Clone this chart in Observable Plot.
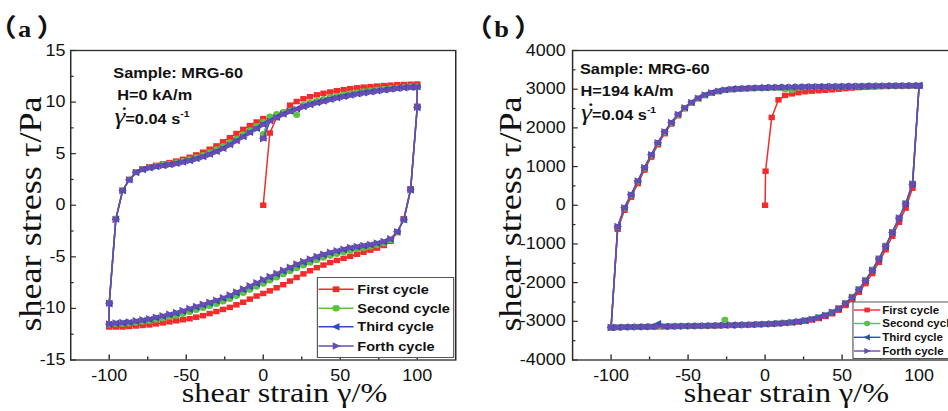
<!DOCTYPE html>
<html>
<head>
<meta charset="utf-8">
<script src="https://cdn.jsdelivr.net/npm/d3@7"></script>
<script src="https://cdn.jsdelivr.net/npm/@observablehq/plot@0.6"></script>
<style>
  html, body { margin: 0; padding: 0; background: #fff; overflow: hidden; width: 948px; height: 411px; }
  #fig { position: relative; width: 846px; height: 411px; transform: scaleX(1.15); transform-origin: 0 0; }
  .panel { position: absolute; top: 0; }
  .panel svg { max-width: none !important; display: block; }
</style>
</head>
<body>
<div id="fig"></div>
<script>
// Strain sampling points of each loading branch (%)
const strainGrid = [-100, -95.7, -91.3, -87, -82.6, -78.3, -73.9, -69.6, -65.2, -60.9,
  -56.5, -52.2, -47.8, -43.5, -39.1, -34.8, -30.4, -26.1, -21.7, -17.4,
  -13, -8.7, -4.3, 0, 4.3, 8.7, 13, 17.4, 21.7, 26.1,
  30.4, 34.8, 39.1, 43.5, 47.8, 52.2, 56.5, 60.9, 65.2, 69.6,
  73.9, 78.3, 82.6, 87, 91.3, 95.7, 100];

const cycleNames = ["First cycle", "Second cycle", "Third cycle", "Forth cycle"];

// ---- (a) H = 0 kA/m : shear stress (Pa) ----
// upper branch (strain increasing), lower branch (listed by increasing strain)
const aUp1 = [-9.5, -1.3, 1.45, 2.5, 3.22, 3.53, 3.72, 3.87, 4.0, 4.13,
  4.28, 4.45, 4.65, 4.88, 5.14, 5.43, 5.75, 6.15, 6.55, 6.95,
  7.35, 7.72, 8.07, 8.4, 7.0, 8.5, 8.95, 9.7, 10.05, 10.32,
  10.52, 10.7, 10.85, 10.98, 11.1, 11.2, 11.3, 11.38, 11.45, 11.5,
  11.55, 11.6, 11.64, 11.68, 11.7, 11.73, 11.75];
const aUp2 = [-9.45, -1.3, 1.45, 2.5, 3.2, 3.5, 3.67, 3.8, 3.92, 4.03,
  4.15, 4.3, 4.47, 4.66, 4.88, 5.13, 5.42, 5.74, 6.1, 6.48,
  6.88, 7.28, 7.68, 8.1, 8.6, 8.85, 9.05, 9.15, 8.75, 9.75,
  9.95, 10.13, 10.3, 10.46, 10.6, 10.73, 10.85, 10.96, 11.06, 11.15,
  11.23, 11.3, 11.36, 11.41, 11.45, 11.5, 11.52];
const aUp3 = [-9.55, -1.35, 1.42, 2.47, 3.17, 3.47, 3.63, 3.75, 3.85, 3.95,
  4.06, 4.19, 4.34, 4.52, 4.72, 4.95, 5.22, 5.53, 5.88, 6.26,
  6.66, 7.06, 7.46, 7.86, 8.2, 8.55, 8.85, 9.12, 9.35, 9.57,
  9.77, 9.95, 10.11, 10.27, 10.42, 10.55, 10.68, 10.8, 10.9, 11.0,
  11.09, 11.18, 11.26, 11.33, 11.39, 11.44, 11.47];
const aUp4 = [-9.5, -1.4, 1.4, 2.45, 3.15, 3.45, 3.6, 3.72, 3.82, 3.92,
  4.02, 4.15, 4.3, 4.47, 4.67, 4.9, 5.17, 5.47, 5.82, 6.2,
  6.6, 7.0, 7.4, 7.8, 8.15, 8.5, 8.8, 9.07, 9.3, 9.52,
  9.72, 9.9, 10.06, 10.22, 10.37, 10.5, 10.63, 10.75, 10.86, 10.96,
  11.05, 11.14, 11.22, 11.3, 11.36, 11.42, 11.45];
const aLo1 = [-11.8, -11.8, -11.8, -11.75, -11.7, -11.65, -11.6, -11.5, -11.4, -11.3,
  -11.2, -11.1, -11.0, -10.85, -10.7, -10.5, -10.3, -10.1, -9.9, -9.65,
  -9.4, -9.1, -8.8, -8.55, -8.3, -8.0, -7.7, -7.35, -7.0, -6.65,
  -6.35, -6.05, -5.8, -5.55, -5.35, -5.15, -4.95, -4.75, -4.55, -4.35,
  -4.15, -3.9, -3.5, -2.65, -1.3, 1.6, 9.6];
const aLo2 = [-11.55, -11.52, -11.5, -11.45, -11.38, -11.3, -11.22, -11.1, -10.97, -10.84,
  -10.7, -10.53, -10.35, -10.16, -9.96, -9.76, -9.56, -9.33, -9.08, -8.8,
  -8.5, -8.2, -7.9, -7.6, -7.3, -7.0, -6.7, -6.4, -6.1, -5.83,
  -5.57, -5.32, -5.1, -4.9, -4.72, -4.56, -4.4, -4.27, -4.15, -4.03,
  -3.87, -3.7, -3.4, -2.6, -1.38, 1.52, 9.5];
const aLo3 = [-11.52, -11.44, -11.4, -11.35, -11.26, -11.16, -11.06, -10.92, -10.77, -10.62,
  -10.47, -10.28, -10.08, -9.88, -9.68, -9.48, -9.27, -9.03, -8.78, -8.48,
  -8.18, -7.88, -7.58, -7.28, -6.98, -6.68, -6.38, -6.08, -5.78, -5.52,
  -5.27, -5.02, -4.81, -4.61, -4.45, -4.3, -4.15, -4.04, -3.94, -3.84,
  -3.69, -3.54, -3.28, -2.58, -1.42, 1.48, 9.48];
const aLo4 = [-11.5, -11.4, -11.35, -11.3, -11.2, -11.1, -11.0, -10.85, -10.7, -10.55,
  -10.4, -10.2, -10.0, -9.8, -9.6, -9.4, -9.2, -8.95, -8.7, -8.4,
  -8.1, -7.8, -7.5, -7.2, -6.9, -6.6, -6.3, -6.0, -5.7, -5.45,
  -5.2, -4.95, -4.75, -4.55, -4.4, -4.25, -4.1, -4.0, -3.9, -3.8,
  -3.65, -3.5, -3.25, -2.55, -1.4, 1.5, 9.5];
// first points of each cycle (strain %, stress Pa)
const aStartStrain = [[0], [0], [0], [0]];
const aStartStress = [[0], [6.9], [6.5], [6.45]];

// ---- (b) H = 194 kA/m : shear stress (Pa) ----
const bUp1 = [-3165, -620, -130, 210, 560, 910, 1245, 1565, 1850, 2100,
  2315, 2495, 2640, 2755, 2838, 2900, 2942, 2972, 2993, 3006,
  3015, 3022, 3028, 3033, 2270, 2725, 2840, 2880, 2910, 2935,
  2950, 2962, 2972, 2985, 3000, 3015, 3030, 3042, 3052, 3060,
  3066, 3071, 3076, 3080, 3084, 3087, 3090];
const bUp2 = [-3158, -560, -75, 262, 615, 960, 1290, 1605, 1885, 2128,
  2338, 2510, 2650, 2760, 2842, 2902, 2943, 2972, 2992, 3005,
  3013, 3020, 3026, 3031, 3036, 3030, 3000, 2970, 3040, 3052,
  3057, 3060, 3063, 3065, 3067, 3070, 3072, 3074, 3076, 3078,
  3080, 3082, 3084, 3086, 3088, 3090, 3092];
const bUp3 = [-3162, -545, -55, 280, 635, 980, 1310, 1625, 1905, 2145,
  2355, 2525, 2665, 2773, 2853, 2912, 2952, 2982, 3002, 3014,
  3022, 3029, 3035, 3040, 3045, 3049, 3053, 3056, 3059, 3062,
  3065, 3067, 3069, 3071, 3073, 3075, 3077, 3079, 3081, 3083,
  3085, 3087, 3088, 3090, 3091, 3093, 3094];
const bUp4 = [-3160, -550, -60, 275, 630, 975, 1305, 1620, 1900, 2140,
  2350, 2520, 2660, 2770, 2850, 2910, 2950, 2980, 3000, 3012,
  3020, 3027, 3033, 3038, 3043, 3047, 3051, 3055, 3058, 3061,
  3064, 3066, 3068, 3070, 3072, 3074, 3076, 3078, 3080, 3082,
  3084, 3086, 3088, 3089, 3090, 3092, 3093];
const bLo1 = [-3165, -3160, -3156, -3152, -3149, -3146, -3143, -3140, -3137, -3134,
  -3131, -3128, -3125, -3122, -3119, -3116, -3112, -3108, -3104, -3100,
  -3095, -3090, -3084, -3078, -3071, -3062, -3051, -3037, -3019, -2996,
  -2966, -2927, -2875, -2805, -2712, -2590, -2440, -2250, -2025, -1765,
  -1475, -1150, -800, -440, -75, 440, 3090];
const bLo2 = [-3158, -3154, -3149, -3145, -3142, -3139, -3136, -3134, -3131, -3129,
  -3126, -3123, -3120, -3117, -3114, -3111, -3107, -2960, -3099, -3094,
  -3089, -3083, -3077, -3070, -3062, -3052, -3039, -3022, -3002, -2975,
  -2940, -2895, -2836, -2757, -2655, -2523, -2362, -2163, -1930, -1662,
  -1368, -1038, -683, -315, 55, 560, 3092];
const bLo3 = [-3161, -3156, -3151, -3147, -3144, -3141, -3138, -3060, -3133, -3131,
  -3128, -3125, -3122, -3119, -3116, -3113, -3109, -3105, -3101, -3096,
  -3091, -3085, -3079, -3072, -3064, -3054, -3041, -3025, -3005, -2979,
  -2946, -2902, -2846, -2768, -2668, -2538, -2378, -2182, -1950, -1683,
  -1390, -1060, -705, -335, 35, 545, 3093];
const bLo4 = [-3160, -3155, -3150, -3146, -3143, -3140, -3137, -3135, -3132, -3130,
  -3127, -3124, -3121, -3118, -3115, -3112, -3108, -3104, -3100, -3095,
  -3090, -3084, -3078, -3071, -3063, -3053, -3040, -3024, -3004, -2978,
  -2944, -2900, -2843, -2765, -2665, -2535, -2375, -2178, -1945, -1678,
  -1385, -1055, -700, -330, 40, 550, 3093];
const bStartStrain = [[0, 0.3], [0], [0], [0]];
const bStartStress = [[0, 880], [3032], [3040], [3036]];

// axis ticks
const xMajor = [-100, -50, 0, 50, 100];
const xMinor = [-75, -25, 25, 75];
const aYMajor = [-15, -10, -5, 0, 5, 10, 15];
const aYMinor = [-12.5, -7.5, -2.5, 2.5, 7.5, 12.5];
const bYMajor = [-4000, -3000, -2000, -1000, 0, 1000, 2000, 3000, 4000];
const bYMinor = [-3500, -2500, -1500, -500, 500, 1500, 2500, 3500];

// ---- styling ----
const colors = ["#f22b2b", "#5cc23c", "#2f4db4", "#6a4bb3"];
const triLeft = {draw(ctx, size) {
  const r = Math.sqrt(size / Math.PI);
  ctx.moveTo(-r * 1.2, 0); ctx.lineTo(r * 0.9, -r * 1.15); ctx.lineTo(r * 0.9, r * 1.15); ctx.closePath();
}};
const triRight = {draw(ctx, size) {
  const r = Math.sqrt(size / Math.PI);
  ctx.moveTo(r * 1.2, 0); ctx.lineTo(-r * 0.9, -r * 1.15); ctx.lineTo(-r * 0.9, r * 1.15); ctx.closePath();
}};
const symbols = [d3.symbolSquare, d3.symbolCircle, triLeft, triRight];
const symbolNames = ["square", "circle", triLeft, triRight];
const markerR = [3.1, 3.0, 3.2, 3.2];

// one loading cycle: start -> +100 (upper), +100 -> -100 (lower), -100 -> 0 (upper)
function cyclePath(startStrain, startStress, up, lo) {
  const pts = startStrain.map((s, i) => ({strain: s, stress: startStress[i]}));
  const n = strainGrid.length, mid = strainGrid.indexOf(0);
  for (let i = mid + 1; i < n; i++) pts.push({strain: strainGrid[i], stress: up[i]});
  for (let i = n - 1; i >= 0; i--) pts.push({strain: strainGrid[i], stress: lo[i]});
  for (let i = 0; i <= mid; i++) pts.push({strain: strainGrid[i], stress: up[i]});
  return pts;
}

const fig = document.getElementById("fig");
const SANS = "'Liberation Sans', Arial, sans-serif";
const SERIF = "'Liberation Serif', 'Times New Roman', serif";
const CJK = "'Noto Sans CJK SC', sans-serif";

function drawPanel(cfg) {
  const cycles = [0, 1, 2, 3].map(k => cyclePath(cfg.startStrain[k], cfg.startStress[k], cfg.up[k], cfg.lo[k]));
  const marks = [];
  cycles.forEach((pts, k) => {
    marks.push(Plot.line(pts, {x: "strain", y: "stress", stroke: colors[k], strokeWidth: 1.3}));
    marks.push(Plot.dot(pts, {x: "strain", y: "stress", fill: colors[k], r: markerR[k], symbol: symbolNames[k]}));
  });
  const fmt = d => String(d);
  marks.push(
    Plot.frame({stroke: "#2a2a2a", strokeWidth: 1.3}),
    Plot.axisX(xMajor, {anchor: "bottom", tickSize: -5, fill: "none", stroke: "#2a2a2a", strokeWidth: 1.2, label: null}),
    Plot.axisX(xMinor, {anchor: "bottom", tickSize: -3, fill: "none", stroke: "#2a2a2a", strokeWidth: 1.2, label: null}),
    Plot.axisX(xMajor, {anchor: "bottom", tickSize: 0, tickPadding: 10, stroke: "none", fill: "#111", fontSize: 15.6, tickFormat: fmt, label: null}),
    Plot.axisY(cfg.yMajor, {anchor: "left", tickSize: -5, fill: "none", stroke: "#2a2a2a", strokeWidth: 1.2, label: null}),
    Plot.axisY(cfg.yMinor, {anchor: "left", tickSize: -3, fill: "none", stroke: "#2a2a2a", strokeWidth: 1.2, label: null}),
    Plot.axisY(cfg.yMajor, {anchor: "left", tickSize: 0, tickPadding: cfg.yPad, stroke: "none", fill: "#111", fontSize: 15.6, tickFormat: fmt, label: null})
  );
  const svg = Plot.plot({
    width: cfg.width, height: 411,
    marginLeft: cfg.marginLeft, marginRight: cfg.marginRight, marginTop: 50, marginBottom: 51.5,
    x: {domain: [-125, 125], axis: null},
    y: {domain: cfg.yDomain, axis: null},
    style: {fontFamily: SANS, fontSize: "15px", background: "transparent", overflow: "visible", color: "#111"},
    marks
  });
  const div = document.createElement("div");
  div.className = "panel";
  div.style.left = cfg.left + "px";
  div.style.width = cfg.width + "px";
  div.appendChild(svg);
  fig.appendChild(div);

  const s = d3.select(svg);
  const fl = cfg.marginLeft, fr = cfg.width - cfg.marginRight;
  // panel tag: full-width brackets around a bold letter
  const tag = s.append("text").attr("x", cfg.tagX).attr("y", 37.5).attr("text-anchor", "start")
    .attr("fill", "#111").attr("font-weight", "bold");
  tag.append("tspan").attr("font-family", CJK).attr("font-size", 25).text("（");
  tag.append("tspan").attr("dx", 1.2).attr("font-family", SERIF).attr("font-size", 23).text(cfg.tag);
  tag.append("tspan").attr("dx", 4.5).attr("font-family", CJK).attr("font-size", 25).text("）");
  // axis titles
  s.append("text").attr("transform", `translate(${cfg.yTitleX},${cfg.yTitleY}) rotate(-90) scale(1.29,1)`)
    .attr("text-anchor", "middle").attr("font-family", SERIF).attr("font-size", 28).attr("fill", "#111")
    .text("shear stress τ/Pa");
  s.append("text").attr("x", (fl + fr) / 2 + 19).attr("y", 402)
    .attr("text-anchor", "middle").attr("font-family", SERIF).attr("font-size", 28).attr("fill", "#111")
    .text("shear strain γ/%");
  // sample annotation
  const ann = s.append("g").attr("text-anchor", "start").attr("font-family", SANS).attr("font-weight", "bold")
    .attr("font-size", 14.2).attr("fill", "#111");
  ann.append("text").attr("x", cfg.annX).attr("y", cfg.annY).text("Sample: MRG-60");
  ann.append("text").attr("x", cfg.annX + cfg.hShift).attr("y", cfg.annY + 22.5).text(cfg.field);
  const g3 = ann.append("text").attr("x", cfg.annX + 1).attr("y", cfg.annY + 46);
  g3.append("tspan").attr("font-family", SERIF).attr("font-style", "italic").attr("font-weight", "normal").attr("font-size", 24).text("γ");
  g3.append("tspan").text("=0.04 s");
  g3.append("tspan").attr("font-size", 9).attr("dy", -7).text("-1");
  // rate dot over the gamma
  ann.append("text").attr("x", cfg.annX + 7.5).attr("y", cfg.annY + 32)
    .attr("font-family", SERIF).attr("font-weight", "bold").attr("font-size", 16).text(".");
  // legend
  const L = cfg.legend;
  const lg = s.append("g").attr("text-anchor", "start");
  lg.append("rect").attr("x", L.x).attr("y", L.y).attr("width", L.w).attr("height", L.h)
    .attr("fill", "#fff").attr("stroke", "#555").attr("stroke-width", 1);
  cycleNames.forEach((name, k) => {
    const yy = L.rows[k];
    lg.append("line").attr("x1", L.x0).attr("x2", L.x1).attr("y1", yy).attr("y2", yy)
      .attr("stroke", colors[k]).attr("stroke-width", 1.4);
    lg.append("path").attr("transform", `translate(${(L.x0 + L.x1) / 2},${yy})`)
      .attr("d", d3.symbol(symbols[k], Math.PI * L.r * L.r)()).attr("fill", colors[k]);
    lg.append("text").attr("x", L.tx).attr("y", yy).attr("dy", "0.36em")
      .attr("font-family", SANS).attr("font-weight", "bold").attr("font-size", L.fs).attr("fill", "#111").text(name);
  });
}

drawPanel({
  tag: "a", tagX: -10.5,
  left: 0, width: 410, marginLeft: 61, marginRight: 14.2,
  yDomain: [-15, 15], yMajor: aYMajor, yMinor: aYMinor, yPad: 4.5,
  up: [aUp1, aUp2, aUp3, aUp4], lo: [aLo1, aLo2, aLo3, aLo4],
  startStrain: aStartStrain, startStress: aStartStress,
  yTitleX: 36, yTitleY: 214,
  annX: 98.5, annY: 78, hShift: 3.5, field: "H=0 kA/m",
  legend: {x: 276, y: 277.5, w: 118.5, h: 80, rows: [289.3, 308.3, 326.7, 346],
    x0: 277, x1: 307.5, tx: 310.7, fs: 12.6, r: 3.3}
});

drawPanel({
  tag: "b", tagX: -6.5,
  left: 410, width: 436, marginLeft: 87.4, marginRight: 13.8,
  yDomain: [-4000, 4000], yMajor: bYMajor, yMinor: bYMinor, yPad: 6,
  up: [bUp1, bUp2, bUp3, bUp4], lo: [bLo1, bLo2, bLo3, bLo4],
  startStrain: bStartStrain, startStress: bStartStress,
  yTitleX: 43, yTitleY: 214,
  annX: 94.3, annY: 74, hShift: 0.5, field: "H=194 kA/m",
  legend: {x: 331.7, y: 302, w: 100, h: 56.5, rows: [310, 323.5, 337.3, 351],
    x0: 332.5, x1: 355.5, tx: 357.2, fs: 10, r: 2.7}
});
</script>
</body>
</html>
